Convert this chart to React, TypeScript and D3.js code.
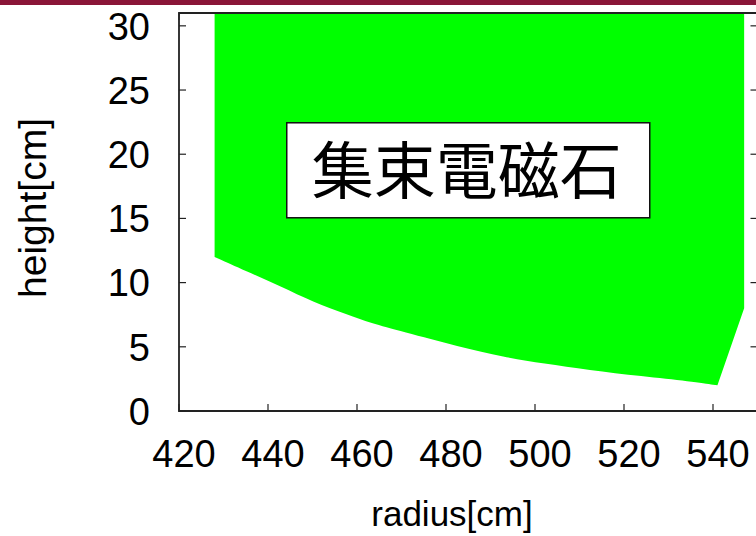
import React from "react";
import * as d3 from "d3";

// Axis ticks
const radiusTicks = [420, 440, 460, 480, 500, 520, 540];
const heightTicks = [0, 5, 10, 15, 20, 25, 30];

// Magnet cross-section outline (radius [cm], height [cm])
const innerRadius = 428;
const outerRadius = 547;
const topHeight = 32;
const bottomR = [428, 435, 443, 450, 458, 463, 470, 483, 493, 502, 512, 524, 535, 541];
const bottomH = [12.0, 10.9, 9.7, 8.5, 7.5, 6.85, 6.2, 5.0, 4.2, 3.7, 3.2, 2.7, 2.3, 2.0];
const outerCornerH = 8.0;

const labelText = "集束電磁石";

const W = 756;
const H = 536;

export default function App() {
  const x = d3.scaleLinear().domain([420, 550]).range([179, 757.5]);
  const y = d3.scaleLinear().domain([0, 31]).range([411, 13]);

  const pts: [number, number][] = bottomR.map((r, i) => [r, bottomH[i]]);
  const curve = d3
    .line<[number, number]>()
    .x((d) => x(d[0]))
    .y((d) => y(d[1]))
    .curve(d3.curveBasis)(pts) as string;

  const shape =
    `M${x(innerRadius)},${y(topHeight)}` +
    "L" + curve.slice(1) +
    `L${x(outerRadius)},${y(outerCornerH)}` +
    `L${x(outerRadius)},${y(topHeight)}Z`;

  const [x0, x1] = x.range();
  const [yb, yt] = y.range();
  const tick = 7;
  const font = "'Liberation Sans', Arial, Helvetica, sans-serif";

  const lx = x(485);
  const ly = y(18.75);

  return (
    <svg
      width={W}
      height={H}
      style={{ position: "absolute", left: 0, top: 0, background: "#fff" }}
    >
      <defs>
        <clipPath id="plot">
          <rect x={x0} y={yt} width={x1 - x0} height={yb - yt} />
        </clipPath>
      </defs>
      <rect x={0} y={0} width={W} height={5} fill="#8a1538" />

      {/* top mirror ticks, behind the fill */}
      {radiusTicks.map((t) => (
        <line key={"tt" + t} x1={x(t)} x2={x(t)} y1={yt} y2={yt + tick} stroke="#222" strokeWidth={1.2} />
      ))}

      <path d={shape} fill="#00ff00" clipPath="url(#plot)" />

      {/* frame */}
      <path
        d={`M${x1},${yt}H${x0}V${yb}H${x1}V${yt}`}
        fill="none"
        stroke="#222"
        strokeWidth={1.8}
      />

      {/* y ticks and labels */}
      {heightTicks.map((t) => (
        <g key={"y" + t}>
          <line x1={x0} x2={x0 + tick} y1={y(t)} y2={y(t)} stroke="#222" strokeWidth={1.2} />
          <line x1={x1 - tick} x2={x1} y1={y(t)} y2={y(t)} stroke="#222" strokeWidth={1.2} />
          <text
            x={150}
            y={y(t) + 13.7}
            textAnchor="end"
            fontFamily={font}
            fontSize={38}
            fill="#000"
          >
            {t}
          </text>
        </g>
      ))}

      {/* x ticks and labels */}
      {radiusTicks.map((t) => (
        <g key={"x" + t}>
          <line x1={x(t)} x2={x(t)} y1={yb} y2={yb - tick} stroke="#222" strokeWidth={1.2} />
          <text
            x={x(t) + 5}
            y={467}
            textAnchor="middle"
            fontFamily={font}
            fontSize={38}
            fill="#000"
          >
            {t}
          </text>
        </g>
      ))}

      {/* axis titles */}
      <text
        x={452}
        y={526}
        textAnchor="middle"
        fontFamily={font}
        fontSize={35}
      >
        radius[cm]
      </text>
      <text
        transform={`translate(46,208) rotate(-90)`}
        textAnchor="middle"
        fontFamily={font}
        fontSize={39}
      >
        height[cm]
      </text>

      {/* label box */}
      <rect
        x={lx - 181.5}
        y={ly - 47.5}
        width={363}
        height={95}
        fill="#fff"
        stroke="#111"
        strokeWidth={1.5}
      />
      <text
        x={lx - 1.5}
        y={ly + 24}
        textAnchor="middle"
        fontFamily="'Noto Sans CJK JP', 'Noto Sans CJK SC', sans-serif"
        fontSize={62}
        fill="#000"
      >
        {labelText}
      </text>
    </svg>
  );
}
